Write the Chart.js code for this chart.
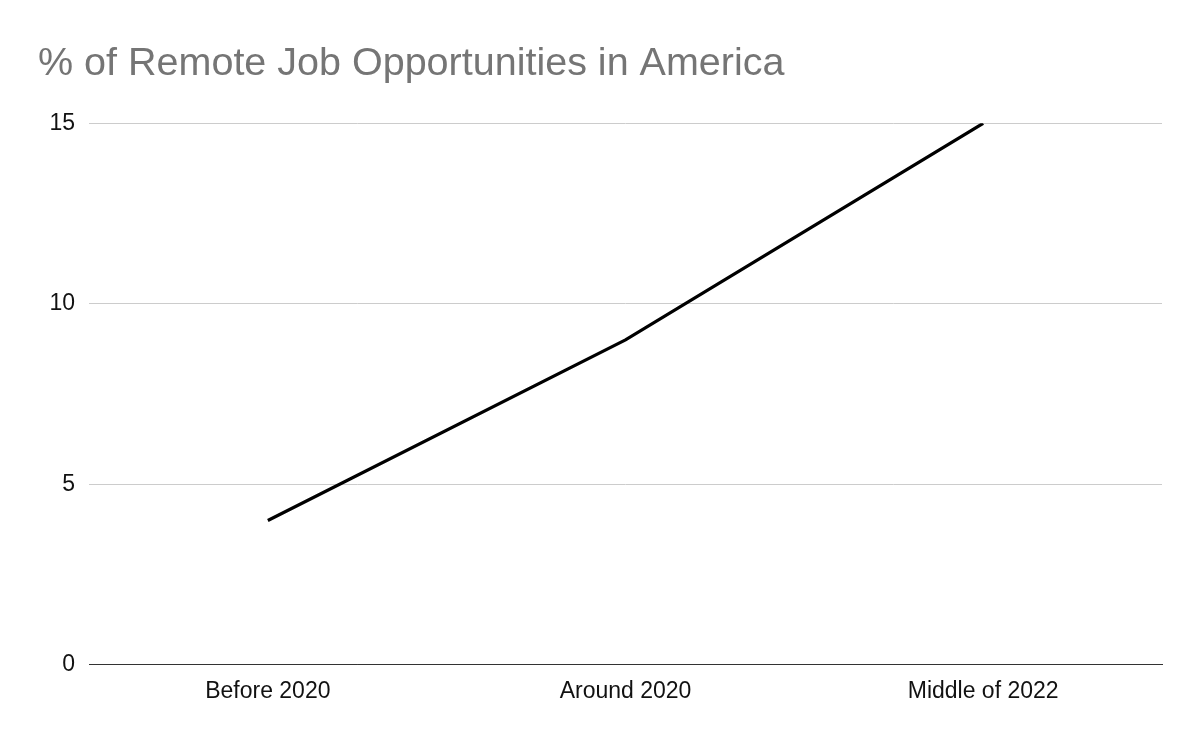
<!DOCTYPE html>
<html>
<head>
<meta charset="utf-8">
<script src="https://cdn.jsdelivr.net/npm/chart.js@4"></script>
<style>
  html, body { margin: 0; padding: 0; background: #fff; }
  #wrap { width: 1200px; height: 742px; }
</style>
</head>
<body>
<div id="wrap"><canvas id="remoteChart" width="1200" height="742"></canvas></div>
<script>
Chart.defaults.font.family = "'Liberation Sans', Arial, sans-serif";
Chart.defaults.color = '#111111';

const periods = ['Before 2020', 'Around 2020', 'Middle of 2022'];
const remoteShare = [4, 9, 15];
const yTicks = [0, 5, 10, 15];

new Chart(document.getElementById('remoteChart'), {
    type: 'line',
    data: {
        labels: periods,
        datasets: [{
            label: '% of Remote Job Opportunities',
            data: remoteShare,
            borderColor: '#000000',
            borderWidth: 3.2,
            pointRadius: 0,
            tension: 0,
            fill: false
        }]
    },
    options: {
        responsive: false,
        animation: false,
        layout: {
            padding: { left: 38, right: 38, top: 0, bottom: 23.5 }
        },
        plugins: {
            legend: { display: false },
            tooltip: { enabled: false },
            title: {
                display: true,
                text: '% of Remote Job Opportunities in America',
                align: 'start',
                color: '#757575',
                font: { size: 39.5, weight: 'normal' },
                padding: { top: 40.3, bottom: 35.6 }
            }
        },
        scales: {
            x: {
                offset: true,
                grid: { display: false, drawTicks: false },
                border: { display: true, color: '#333333', width: 1 },
                ticks: { padding: 13, font: { size: 23 }, color: '#111111', maxRotation: 0 }
            },
            y: {
                min: yTicks[0],
                max: yTicks[yTicks.length - 1],
                afterFit: (scale) => { scale.width = 51; },
                afterBuildTicks: (scale) => { scale.ticks = yTicks.map(v => ({ value: v })); },
                grid: {
                    drawTicks: false,
                    color: (ctx) => ctx.tick && ctx.tick.value === 0 ? '#333333' : '#cccccc',
                    lineWidth: 1
                },
                border: { display: false },
                ticks: { padding: 14, font: { size: 23 }, color: '#111111' }
            }
        }
    }
});
</script>
</body>
</html>
